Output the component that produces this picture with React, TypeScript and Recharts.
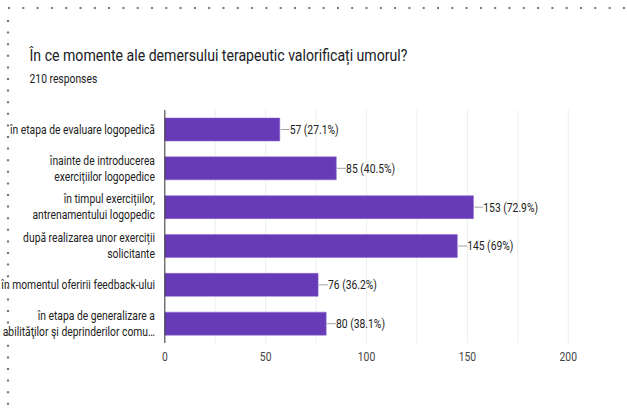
import React from 'react'
import { BarChart, Bar, XAxis, YAxis, CartesianGrid, LabelList } from 'recharts'

const totalResponses = 210

const categories = [
  'în etapa de evaluare logopedică',
  'înainte de introducerea\nexercițiilor logopedice',
  'în timpul exercițiilor,\nantrenamentului logopedic',
  'după realizarea unor exerciții\nsolicitante',
  'în momentul oferirii feedback-ului',
  'în etapa de generalizare a\nabilităţilor şi deprinderilor comu…',
]
const counts = [57, 85, 153, 145, 76, 80]
const xTicks = [0, 50, 100, 150, 200]
const gridTicks = [0, 25, 50, 75, 100, 125, 150, 175, 200]

const data = categories.map((name, i) => ({ name, count: counts[i] }))

const FONT = 'Roboto, Arial, sans-serif'
// the reference screenshot is squeezed horizontally; draw wide, then compress
const SX = 0.82
const W = 765

function pctLabel(v: number): string {
  const p = ((v / totalResponses) * 100).toFixed(1).replace(/\.0$/, '')
  return `${v} (${p}%)`
}

function CategoryTick(props: any) {
  const { x, y, payload } = props
  const lines: string[] = String(payload.value).split('\n')
  const lh = 16
  const start = y - ((lines.length - 1) * lh) / 2
  return (
    <text x={x - 4} y={start} textAnchor="end" fontSize={12.6} fill="#222" fontFamily={FONT}>
      {lines.map((l, i) => (
        <tspan key={i} x={x - 4} y={start + i * lh} dy="0.35em">
          {l}
        </tspan>
      ))}
    </text>
  )
}

function ValueLabel(props: any) {
  const { x, y, width, height, value } = props
  const endX = x + width
  const cy = y + height / 2
  return (
    <g>
      <line x1={endX + 1} y1={cy} x2={endX + 12} y2={cy} stroke="#9a9a9a" strokeWidth={1} />
      <text x={endX + 12} y={cy} dy="0.35em" fontSize={12.6} fill="#222" fontFamily={FONT}>
        {pctLabel(value)}
      </text>
    </g>
  )
}

function DottedFrame() {
  return (
    <svg width={627} height={410} style={{ position: 'absolute', left: 0, top: 0, pointerEvents: 'none' }}>
      <line x1={8} y1={8} x2={625} y2={8} stroke="#777" strokeWidth={2.2} strokeDasharray="2 12.3" />
      <line x1={8} y1={20} x2={8} y2={410} stroke="#777" strokeWidth={2.2} strokeDasharray="2 9.6" />
    </svg>
  )
}

export default function App() {
  return (
    <div style={{ position: 'absolute', left: 0, top: 0, width: 627, height: 410, background: '#fff', overflow: 'hidden' }}>
      <div
        style={{
          position: 'absolute',
          left: 0,
          top: 0,
          width: W,
          height: 410,
          transform: `scaleX(${SX})`,
          transformOrigin: '0 0',
          fontFamily: FONT,
        }}
      >
        <div style={{ position: 'absolute', left: 36, top: 45, fontSize: 17.2, color: '#202124', whiteSpace: 'nowrap' }}>
          În ce momente ale demersului terapeutic valorificați umorul?
        </div>
        <div style={{ position: 'absolute', left: 36, top: 71, fontSize: 12.6, color: '#202124' }}>
          210 responses
        </div>
        <div style={{ position: 'absolute', left: 0, top: 0 }}>
          <BarChart
            width={W}
            height={410}
            data={data}
            layout="vertical"
            margin={{ top: 110, right: 72, bottom: 67 - 30, left: 0 }}
            barSize={23}
          >
            <CartesianGrid horizontal={false} stroke="#ececec" />
            <XAxis
              type="number"
              domain={[0, 200]}
              ticks={gridTicks}
              axisLine={false}
              tickLine={false}
              height={30}
              tick={(p: any) =>
                xTicks.includes(p.payload.value) ? (
                  <text x={p.x} y={p.y + 10} textAnchor="middle" fontSize={12.6} fill="#444" fontFamily={FONT}>
                    {p.payload.value}
                  </text>
                ) : (
                  <g />
                )
              }
            />
            <YAxis
              type="category"
              dataKey="name"
              width={201}
              axisLine={{ stroke: '#333', strokeWidth: 1.2 }}
              tickLine={false}
              tick={<CategoryTick />}
              interval={0}
            />
            <Bar dataKey="count" fill="#673ab7" stroke="#8d6bd0" strokeWidth={0.6} isAnimationActive={false}>
              <LabelList dataKey="count" content={<ValueLabel />} />
            </Bar>
          </BarChart>
        </div>
      </div>
      <DottedFrame />
    </div>
  )
}
